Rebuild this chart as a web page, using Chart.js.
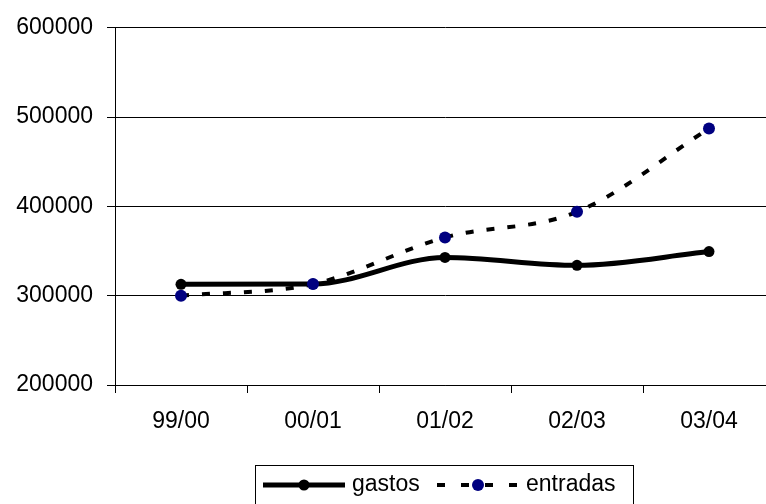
<!DOCTYPE html>
<html lang="es">
<head>
    <meta charset="UTF-8">
    <title>Gastos y entradas</title>
    <script src="https://cdn.jsdelivr.net/npm/chart.js"></script>
    <style>
        html, body { margin: 0; padding: 0; background: #fff; overflow: hidden; }
        #chartContainer { width: 790px; height: 504px; }
    </style>
</head>
<body>
    <div id="chartContainer">
        <canvas id="lineChart" width="790" height="504"></canvas>
    </div>

    <script>
        const temporadas = ['99/00', '00/01', '01/02', '02/03', '03/04'];
        const gastos = [312800, 313000, 342800, 334000, 349400];
        const entradas = [300000, 313000, 365300, 393900, 487200];
        const ejeMin = 200000;
        const ejeMax = 600000;
        const ejePaso = 100000;

        const fuente = { family: "'Liberation Sans', Arial, sans-serif", size: 23 };

        // legend box under the axis, with line samples like the series
        const leyenda = {
            id: 'leyenda',
            afterDraw(chart) {
                const ctx = chart.ctx;
                const y = 485;
                const ds = chart.data.datasets;
                ctx.save();
                ctx.strokeStyle = '#000';
                ctx.lineWidth = 1;
                ctx.strokeRect(255.5, 465.5, 378, 60);

                // gastos
                ctx.beginPath();
                ctx.lineWidth = ds[0].borderWidth;
                ctx.strokeStyle = ds[0].borderColor;
                ctx.moveTo(263, y);
                ctx.lineTo(345, y);
                ctx.stroke();
                ctx.beginPath();
                ctx.fillStyle = ds[0].pointBackgroundColor;
                ctx.arc(304, y, ds[0].pointRadius, 0, Math.PI * 2);
                ctx.fill();

                // entradas
                ctx.beginPath();
                ctx.lineWidth = ds[1].borderWidth;
                ctx.strokeStyle = ds[1].borderColor;
                ctx.setLineDash([8, 16]);
                ctx.moveTo(437, y);
                ctx.lineTo(517, y);
                ctx.stroke();
                ctx.setLineDash([]);
                ctx.beginPath();
                ctx.fillStyle = ds[1].pointBackgroundColor;
                ctx.arc(478, y, ds[1].pointRadius, 0, Math.PI * 2);
                ctx.fill();

                ctx.fillStyle = '#000';
                ctx.font = fuente.size + 'px ' + fuente.family;
                ctx.textBaseline = 'middle';
                ctx.textAlign = 'left';
                ctx.fillText(ds[0].label, 352, y);
                ctx.fillText(ds[1].label, 526, y);
                ctx.restore();
            }
        };

        const ctx = document.getElementById('lineChart').getContext('2d');
        new Chart(ctx, {
            type: 'line',
            data: {
                labels: temporadas,
                datasets: [
                    {
                        label: 'gastos',
                        data: gastos,
                        borderColor: '#000',
                        borderWidth: 5,
                        pointBackgroundColor: '#000',
                        pointBorderColor: '#000',
                        pointBorderWidth: 0,
                        pointRadius: 5.5,
                        cubicInterpolationMode: 'monotone',
                        fill: false,
                        order: 1
                    },
                    {
                        label: 'entradas',
                        data: entradas,
                        borderColor: '#000',
                        borderWidth: 4,
                        borderDash: [8, 13],
                        pointBackgroundColor: '#000080',
                        pointBorderColor: '#000080',
                        pointBorderWidth: 0,
                        pointRadius: 6,
                        cubicInterpolationMode: 'monotone',
                        fill: false,
                        order: 0
                    }
                ]
            },
            options: {
                responsive: false,
                animation: false,
                layout: { padding: { top: 25, right: 15, left: 0, bottom: 0 } },
                plugins: {
                    legend: { display: false },
                    tooltip: { enabled: false }
                },
                scales: {
                    x: {
                        offset: true,
                        grid: {
                            offset: true,
                            drawOnChartArea: false,
                            drawTicks: true,
                            tickLength: 8,
                            color: '#000',
                            lineWidth: 1
                        },
                        border: { color: '#000', width: 1 },
                        ticks: { color: '#000', font: fuente, padding: 15, maxRotation: 0 },
                        afterFit(scale) { scale.height = 119; }
                    },
                    y: {
                        min: ejeMin,
                        max: ejeMax,
                        grid: {
                            color: '#000',
                            lineWidth: 1,
                            drawTicks: true,
                            tickLength: 8
                        },
                        border: { color: '#000', width: 1 },
                        ticks: {
                            stepSize: ejePaso,
                            color: '#000',
                            font: fuente,
                            padding: 14,
                            callback: v => String(v)
                        },
                        afterFit(scale) { scale.width = 115; }
                    }
                }
            },
            plugins: [leyenda]
        });
    </script>
</body>
</html>
